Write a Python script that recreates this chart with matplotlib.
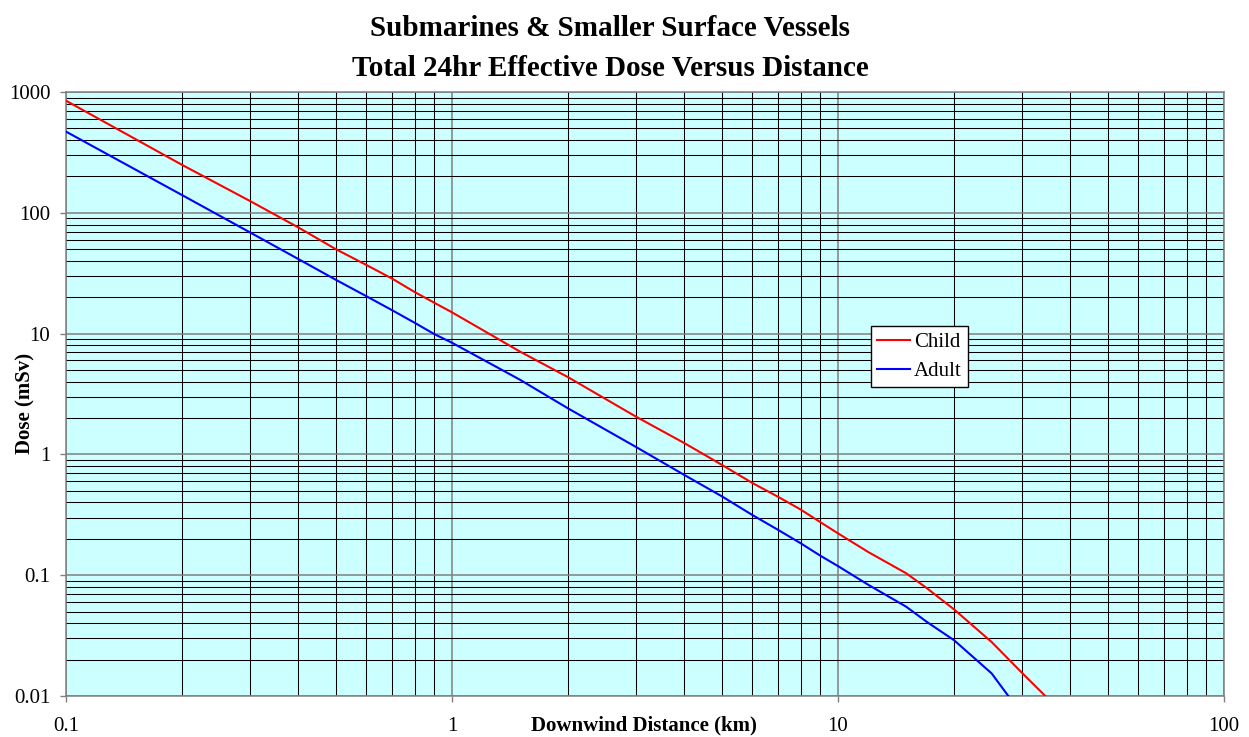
import matplotlib
matplotlib.use('Agg')
import matplotlib.pyplot as plt
from matplotlib.ticker import LogLocator, FuncFormatter, NullFormatter

# Downwind distance (km) and 24 hr effective dose (mSv)
dist_km = [0.1, 0.2, 0.3, 0.4, 0.5, 0.6, 0.7, 0.8, 0.9, 1, 1.5, 2, 3, 4, 5,
           6, 7, 8, 9, 10, 12, 15, 17, 20, 25, 30, 35]
child_msv = [847, 249, 125, 75.6, 50, 37, 28.5, 22.1, 18.0, 15.0, 7.1, 4.35,
             2.05, 1.24, 0.82, 0.58, 0.445, 0.35, 0.275, 0.222, 0.155, 0.104,
             0.078, 0.052, 0.028, 0.0155, 0.0095]
adult_msv = [470, 140, 68.7, 41.4, 27.9, 20.4, 15.6, 12.3, 9.9, 8.4, 4.15, 2.4,
             1.15, 0.675, 0.45, 0.315, 0.237, 0.184, 0.145, 0.119, 0.083,
             0.055, 0.041, 0.0289, 0.0154, 0.007]

x_ticks = [0.1, 1, 10, 100]
y_ticks = [0.01, 0.1, 1, 10, 100, 1000]

title_lines = ["Submarines & Smaller Surface Vessels",
               "Total 24hr Effective Dose Versus Distance"]

plt.rcParams['font.family'] = ['Liberation Serif', 'DejaVu Serif']

W, H = 1249, 737
fig = plt.figure(figsize=(W / 100, H / 100), dpi=100)
fig.patch.set_facecolor('#ffffff')

# plot area placed in pixel terms
left, right, top, bottom = 66, 1224, 92, 696
ax = fig.add_axes([left / W, (H - bottom) / H, (right - left) / W, (bottom - top) / H])
ax.set_facecolor('#ccffff')

ax.set_xscale('log')
ax.set_yscale('log')
ax.set_xlim(0.1, 100)
ax.set_ylim(0.01, 1000)

ax.plot(dist_km, child_msv, color='#ff0000', lw=1.5, label='Child', zorder=3)
ax.plot(dist_km[:len(adult_msv)], adult_msv, color='#0000ff', lw=1.5, label='Adult', zorder=3)

ax.xaxis.set_major_locator(LogLocator(base=10))
ax.yaxis.set_major_locator(LogLocator(base=10))
ax.xaxis.set_minor_locator(LogLocator(base=10, subs=range(2, 10)))
ax.yaxis.set_minor_locator(LogLocator(base=10, subs=range(2, 10)))
ax.set_xticks(x_ticks)
ax.set_yticks(y_ticks)
fmt = FuncFormatter(lambda v, pos: "%g" % v)
ax.xaxis.set_major_formatter(fmt)
ax.yaxis.set_major_formatter(fmt)
ax.xaxis.set_minor_formatter(NullFormatter())
ax.yaxis.set_minor_formatter(NullFormatter())

ax.grid(which='minor', color='#000000', lw=0.75, zorder=1)
ax.grid(which='major', color='#808080', lw=1.1, zorder=2)
ax.set_axisbelow(True)

ax.tick_params(which='major', direction='out', length=4.3, width=1.0, color='#808080',
               labelsize=15, labelcolor='#000000')
ax.tick_params(axis='x', which='major', pad=11)
ax.tick_params(axis='y', which='major', pad=7)
ax.tick_params(which='minor', length=0)

for side in ['left', 'bottom', 'right', 'top']:
    ax.spines[side].set_color('#808080')
    ax.spines[side].set_linewidth(1.1)

# titles and axis labels
fig.text(610 / W, 1 - 29 / H, title_lines[0], ha='center', va='center',
         fontsize=21, fontweight='bold')
fig.text(610 / W, 1 - 69 / H, title_lines[1], ha='center', va='center',
         fontsize=21, fontweight='bold')
fig.text(531 / W, 1 - 725 / H, "Downwind Distance (km)", ha='left', va='center',
         fontsize=15, fontweight='bold')
fig.text(25 / W, 1 - 403 / H, "Dose (mSv)", ha='center', va='center',
         rotation=90, fontsize=15, fontweight='bold')

leg = ax.legend(loc='upper left', bbox_to_anchor=(871 / W, 1 - 326 / H),
                bbox_transform=fig.transFigure, fontsize=15, frameon=True,
                fancybox=False, framealpha=1, edgecolor='#000000',
                handlelength=1.55, handletextpad=0.2, borderpad=0.3,
                labelspacing=0.45, borderaxespad=0)
leg.get_frame().set_linewidth(1.0)

fig.savefig('out.png', dpi=100)
